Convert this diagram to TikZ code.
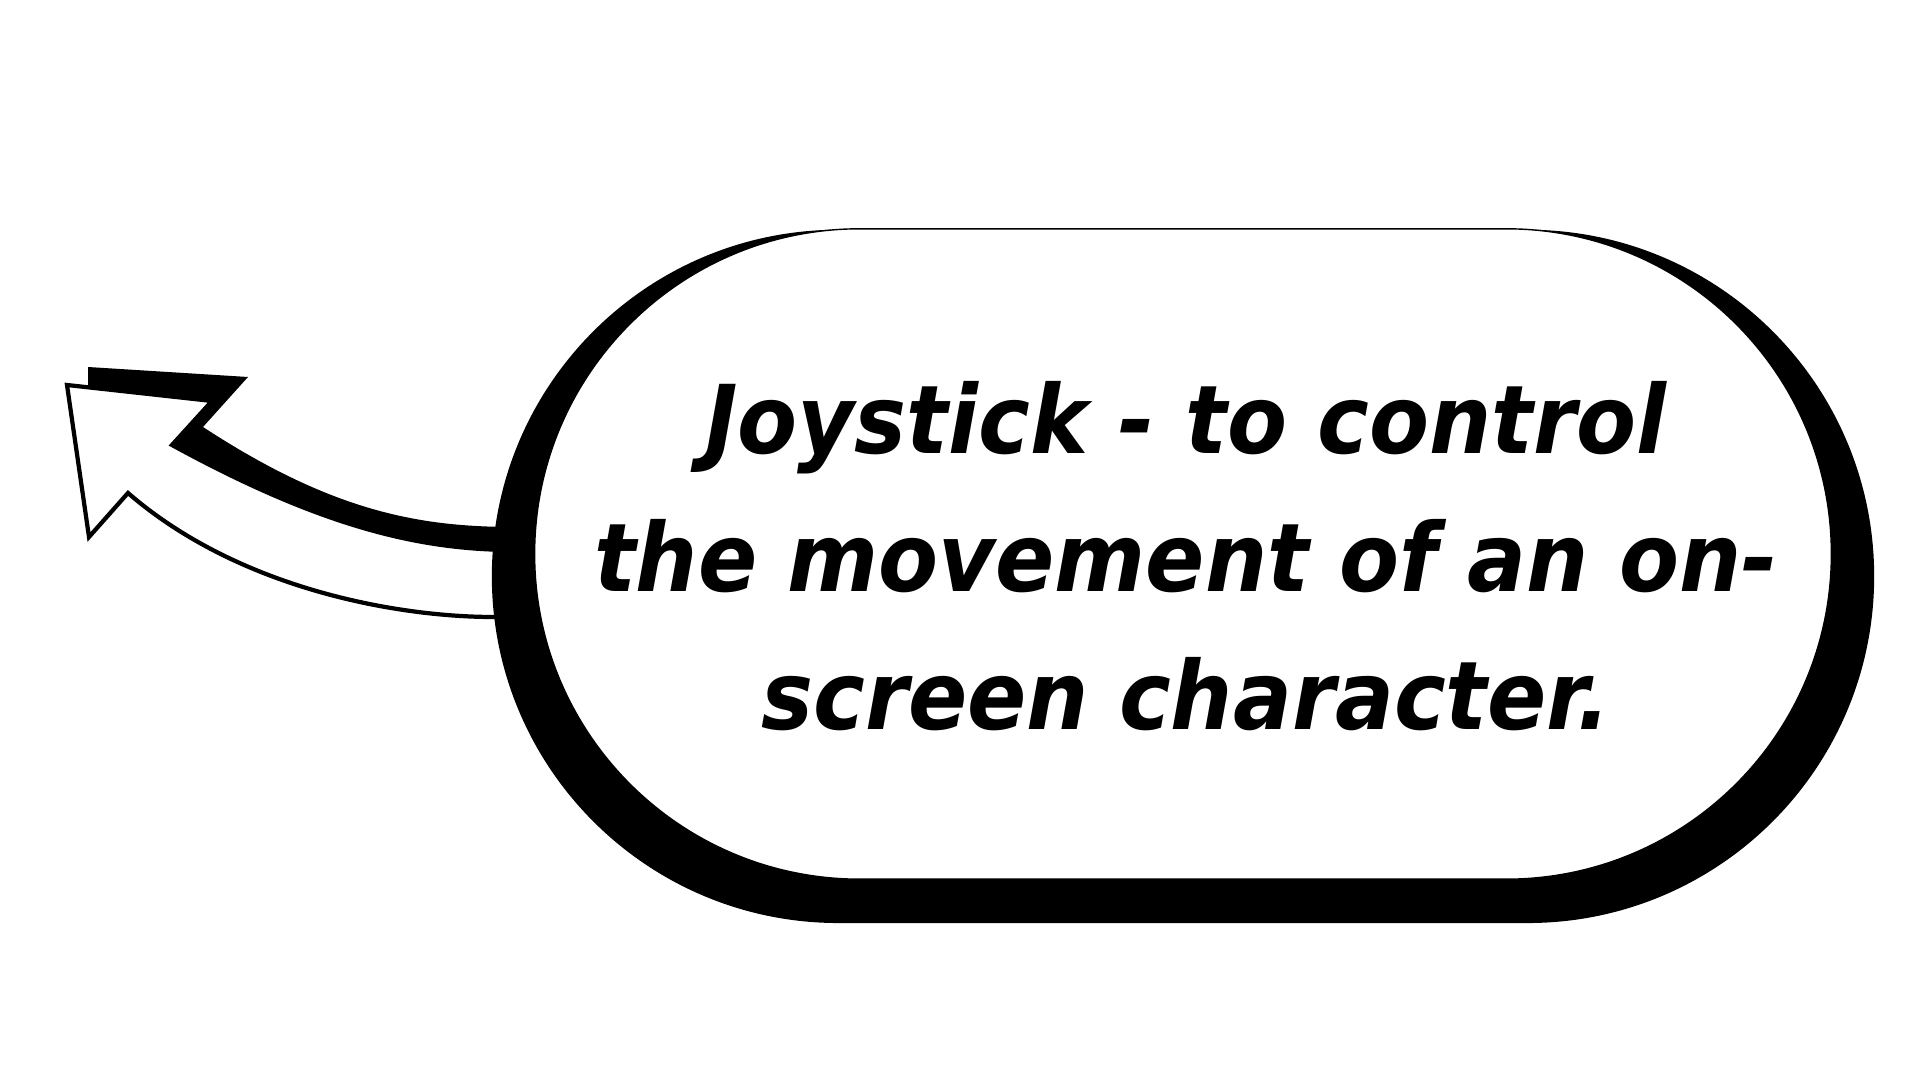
\documentclass[tikz,border=0pt]{standalone}
\usepackage{fontspec}
\setmainfont{DejaVu Sans}[FakeStretch=0.92]
\usetikzlibrary{shadows,backgrounds}

\begin{document}
\begin{tikzpicture}[x=0.01cm,y=-0.01cm,line width=.8pt]
  \tikzset{
    bubble/.style={draw=black,line width=.4pt,fill=white,rounded corners=3.25cm,
        minimum width=12.96cm,minimum height=6.5cm,
        general shadow={fill=black,shadow scale=1.066,shadow yshift=-0.21cm}},
    say/.style={align=center,font=\fontsize{27}{39.3}\selectfont\bfseries\itshape},
    pointer/.style={draw=black,line width=1.2pt,fill=white,line join=miter},
    pointershade/.style={fill=black}
  }
  \useasboundingbox (0,0) rectangle (1920,1080);

  \node[bubble] (bubble) at (1183,554) {};
  \node[say] (txt) at (1186,556) {Joystick - to control\\the movement of an on-\\screen character.};

  \begin{scope}[on background layer]
    % shadow of the block arrow
    \fill[pointershade] (88,367) -- (248,377) -- (203,427)
      .. controls (333,512) and (420,527) .. (515,527) -- (515,617) -- (493,617)
      .. controls (400,617) and (240,590) .. (128,493) -- (90,536) -- cycle;
    % the block arrow
    \draw[pointer] (67,385) -- (212,401) -- (172,445)
      .. controls (322,527) and (420,550) .. (515,550) -- (515,617) -- (493,617)
      .. controls (400,617) and (240,590) .. (128,493) -- (89,537) -- cycle;
  \end{scope}
\end{tikzpicture}
\end{document}
